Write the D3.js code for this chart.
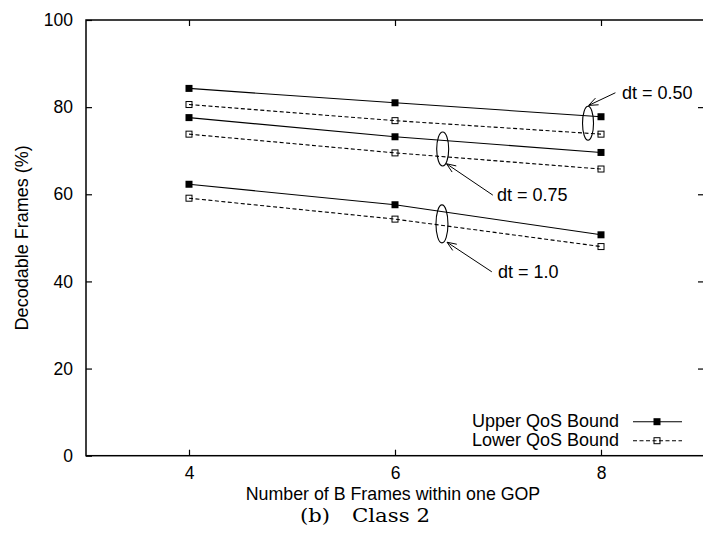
<!DOCTYPE html>
<html>
<head>
<meta charset="utf-8">
<script src="https://cdn.jsdelivr.net/npm/d3@7"></script>
<style>
  html, body { margin: 0; padding: 0; background: #fff; }
  svg { display: block; }
  text { font-family: "Liberation Sans", Arial, Helvetica, sans-serif; fill: #000; }
</style>
</head>
<body>
<svg id="chart" width="703" height="546"></svg>
<script>
// Number of B frames per GOP (x values)
const bFrames = [4, 6, 8];

// Decodable frames (%) per time threshold dt
const upper050 = [84.3, 81.0, 77.8];
const lower050 = [80.6, 76.9, 73.8];
const upper075 = [77.6, 73.2, 69.6];
const lower075 = [73.8, 69.5, 65.8];
const upper100 = [62.3, 57.6, 50.7];
const lower100 = [59.1, 54.3, 48.0];

const yTicks = [0, 20, 40, 60, 80, 100];
const xTicks = [4, 6, 8];

const legendLabels = ["Upper QoS Bound", "Lower QoS Bound"];
const dtLabels = ["dt = 0.50", "dt = 0.75", "dt = 1.0"];

const svg = d3.select("#chart");

const x = d3.scaleLinear().domain([3, 9]).range([86, 704]);
const y = d3.scaleLinear().domain([0, 100]).range([455.7, 20]);

const FONT = 17.5;

// Frame (border on all four sides, right edge falls at canvas edge)
svg.append("rect")
  .attr("x", x(3)).attr("y", y(100))
  .attr("width", x(9) - x(3)).attr("height", y(0) - y(100))
  .attr("fill", "none").attr("stroke", "#000").attr("stroke-width", 1.5);

// Left axis ticks + labels, mirrored ticks on the right
const yAxis = d3.axisLeft(y).tickValues(yTicks).tickSize(-6).tickPadding(13).tickFormat(d3.format("d"));
const gy = svg.append("g").attr("transform", `translate(${x(3)},0)`).call(yAxis);
gy.select(".domain").remove();
gy.selectAll("line").attr("stroke", "#000").attr("stroke-width", 1.2);
gy.selectAll("text").style("font-size", FONT + "px").style("font-family", "Liberation Sans, Arial, sans-serif").attr("fill", "#000");

const yAxisR = d3.axisRight(y).tickValues(yTicks.slice(1, -1)).tickSize(-6).tickFormat("");
const gyr = svg.append("g").attr("transform", `translate(${x(9)},0)`).call(yAxisR);
gyr.select(".domain").remove();
gyr.selectAll("line").attr("stroke", "#000").attr("stroke-width", 1.2);

// Bottom axis ticks + labels, mirrored ticks on top
const xAxis = d3.axisBottom(x).tickValues(xTicks).tickSize(-6).tickPadding(11).tickFormat(d3.format("d"));
const gx = svg.append("g").attr("transform", `translate(0,${y(0)})`).call(xAxis);
gx.select(".domain").remove();
gx.selectAll("line").attr("stroke", "#000").attr("stroke-width", 1.2);
gx.selectAll("text").style("font-size", FONT + "px").style("font-family", "Liberation Sans, Arial, sans-serif").attr("fill", "#000");

const xAxisT = d3.axisTop(x).tickValues(xTicks).tickSize(-6).tickFormat("");
const gxt = svg.append("g").attr("transform", `translate(0,${y(100)})`).call(xAxisT);
gxt.select(".domain").remove();
gxt.selectAll("line").attr("stroke", "#000").attr("stroke-width", 1.2);

// Axis titles
svg.append("text")
  .attr("x", (x(4) + x(8)) / 2 - 2).attr("y", 499.7)
  .attr("text-anchor", "middle").style("font-size", "17.8px")
  .text("Number of B Frames within one GOP");

svg.append("text")
  .attr("transform", `translate(28,${(y(0) + y(100)) / 2}) rotate(-90)`)
  .attr("text-anchor", "middle").style("font-size", "18px")
  .text("Decodable Frames (%)");

// Caption
const cap = svg.append("text")
  .attr("x", 300).attr("y", 522)
  .style("font-family", "'DejaVu Serif', 'Liberation Serif', serif")
  .style("font-size", "18.5px");
cap.append("tspan").attr("textLength", 30).attr("lengthAdjust", "spacingAndGlyphs").text("(b)");
cap.append("tspan").attr("x", 352).attr("textLength", 78).attr("lengthAdjust", "spacingAndGlyphs").text("Class 2");

// Series
const line = d3.line().x((d, i) => x(bFrames[i])).y(d => y(d));
const series = [
  { values: upper050, upper: true },
  { values: lower050, upper: false },
  { values: upper075, upper: true },
  { values: lower075, upper: false },
  { values: upper100, upper: true },
  { values: lower100, upper: false }
];

function drawMarker(g, cx, cy, upper) {
  if (upper) {
    g.append("rect").attr("x", cx - 3.5).attr("y", cy - 3.5).attr("width", 7).attr("height", 7)
      .attr("fill", "#000");
  } else {
    g.append("rect").attr("x", cx - 3).attr("y", cy - 3).attr("width", 6).attr("height", 6)
      .attr("fill", "none").attr("stroke", "#000").attr("stroke-width", 1);
  }
}

series.forEach(s => {
  svg.append("path")
    .attr("d", line(s.values))
    .attr("fill", "none").attr("stroke", "#000").attr("stroke-width", 1.1)
    .attr("stroke-dasharray", s.upper ? null : "4,2.5");
  const g = svg.append("g");
  s.values.forEach((v, i) => drawMarker(g, x(bFrames[i]), y(v), s.upper));
});

// dt annotations: ellipse around a pair of lines, arrow from label to ellipse
function arrow(x1, y1, x2, y2) {
  svg.append("line").attr("x1", x1).attr("y1", y1).attr("x2", x2).attr("y2", y2)
    .attr("stroke", "#000").attr("stroke-width", 1);
  const a = Math.atan2(y2 - y1, x2 - x1);
  const L = 10, w = 0.38;
  svg.append("path")
    .attr("d", `M${x2 - L * Math.cos(a - w)},${y2 - L * Math.sin(a - w)} L${x2},${y2} L${x2 - L * Math.cos(a + w)},${y2 - L * Math.sin(a + w)}`)
    .attr("fill", "none").attr("stroke", "#000").attr("stroke-width", 1);
}
function ellipse(cxv, cyv, rx, ry) {
  svg.append("ellipse").attr("cx", x(cxv)).attr("cy", y(cyv)).attr("rx", rx).attr("ry", ry)
    .attr("fill", "none").attr("stroke", "#000").attr("stroke-width", 1.1);
}

// dt = 0.50
ellipse(7.874, 76.3, 5.5, 17);
arrow(x(8.14), y(83.3), x(7.88), y(80.4));
svg.append("text").attr("x", 622).attr("y", 99).style("font-size", "18px").text(dtLabels[0]);

// dt = 0.75
ellipse(6.463, 70.4, 6, 17);
arrow(x(6.95), y(59.8), x(6.50), y(67.0));
svg.append("text").attr("x", 497).attr("y", 201).style("font-size", "18px").text(dtLabels[1]);

// dt = 1.0
ellipse(6.456, 53.2, 6, 19);
arrow(x(6.94), y(42.2), x(6.505), y(49.0));
svg.append("text").attr("x", 498).attr("y", 278).style("font-size", "18px").text(dtLabels[2]);

// Legend
const legend = svg.append("g");
[0, 1].forEach(i => {
  const ty = 426.7 + i * 19;
  const ly = 421.7 + i * 19;
  legend.append("text").attr("x", 619).attr("y", ty).attr("text-anchor", "end")
    .style("font-size", "18px").text(legendLabels[i]);
  legend.append("line").attr("x1", 633).attr("x2", 682).attr("y1", ly).attr("y2", ly)
    .attr("stroke", "#000").attr("stroke-width", 1.1)
    .attr("stroke-dasharray", i === 0 ? null : "4,2.5");
  drawMarker(legend, 657, ly, i === 0);
});
</script>
</body>
</html>
